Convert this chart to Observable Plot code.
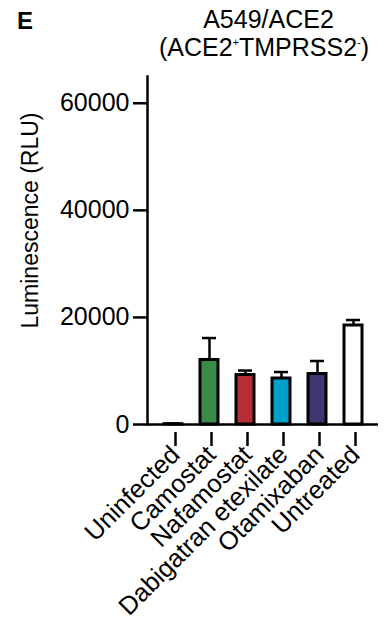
<!DOCTYPE html>
<html>
<head>
<meta charset="utf-8">
<script src="https://cdn.jsdelivr.net/npm/d3@7"></script>
<script src="https://cdn.jsdelivr.net/npm/@observablehq/plot@0.6"></script>
<style>
  html, body { margin: 0; padding: 0; background: #fff; }
  #wrap { position: relative; width: 385px; height: 621px; font-family: "Liberation Sans", Arial, Helvetica, sans-serif; color: #000; }
  .abs { position: absolute; white-space: nowrap; }
  #panel { left: 17px; top: 9px; font-size: 24px; line-height: 24px; font-weight: bold; }
  #t1 { left: 148.5px; width: 240px; text-align: center; top: 8.3px; font-size: 25px; line-height: 22px; }
  #t2 { left: 144px; width: 240px; text-align: center; top: 36.3px; font-size: 25px; line-height: 22px; }
  sup { font-size: 11px; line-height: 11px; vertical-align: 0; position: relative; top: -10px; }
  #chart { position: absolute; left: 0; top: 0; }
</style>
</head>
<body>
<div id="wrap">
  <div id="chart"></div>
  <div class="abs" id="panel">E</div>
  <div class="abs" id="t1">A549/ACE2</div>
  <div class="abs" id="t2">(ACE2<sup>+</sup>TMPRSS2<sup>-</sup>)</div>
</div>
<script>
const categories = ["Uninfected", "Camostat", "Nafamostat", "Dabigatran etexilate", "Otamixaban", "Untreated"];
const means = [60, 12050, 9240, 8590, 9430, 18490];
const errors = [120, 4100, 840, 1210, 2430, 1020];
const colors = ["#ffffff", "#3a8a48", "#b52e33", "#00a0cc", "#3d3670", "#ffffff"];
const yTicks = [0, 20000, 40000, 60000];
const yLabel = "Luminescence (RLU)";

const data = categories.map((c, i) => ({cat: c, mean: means[i], err: errors[i]}));

const font = "'Liberation Sans', Arial, Helvetica, sans-serif";

const chart = Plot.plot({
  width: 385,
  height: 621,
  marginTop: 76,
  marginBottom: 197,
  marginLeft: 147,
  marginRight: 7,
  style: {fontFamily: font, fontSize: "22px", color: "#000", background: "transparent", overflow: "visible"},
  x: {domain: categories, paddingInner: 0.51, paddingOuter: 0.4, label: null},
  y: {domain: [0, 65000], label: null},
  color: {domain: categories, range: colors},
  marks: [
    Plot.ruleX(data, {x: "cat", y1: "mean", y2: d => d.mean + d.err, stroke: "#000", strokeWidth: 2.5}),
    Plot.tickY(data, {x: "cat", y: d => d.mean + d.err, stroke: "#000", strokeWidth: 2.5, inset: 2}),
    Plot.barY(data, {x: "cat", y: "mean", fill: "cat", stroke: "#000", strokeWidth: 3}),
    Plot.ruleY([0], {stroke: "#000", strokeWidth: 2.5}),
    Plot.frame({anchor: "left", stroke: "#000", strokeWidth: 2.5}),
    Plot.axisY({ticks: yTicks, tickSize: 14, tickPadding: 4, tickFormat: d3.format("d"), strokeWidth: 2.5, fontSize: 25, label: null}),
    Plot.axisX({tickSize: 14, tickPadding: 4, tickRotate: -45, strokeWidth: 2.5, fontSize: 25.5, label: null, dx: 2, dy: 8}),
    Plot.text([yLabel], {frameAnchor: "left", textAnchor: "middle", rotate: -90, dx: -117, dy: -30, fontSize: 23, fill: "#000"})
  ]
});
document.getElementById("chart").appendChild(chart);
</script>
</body>
</html>
